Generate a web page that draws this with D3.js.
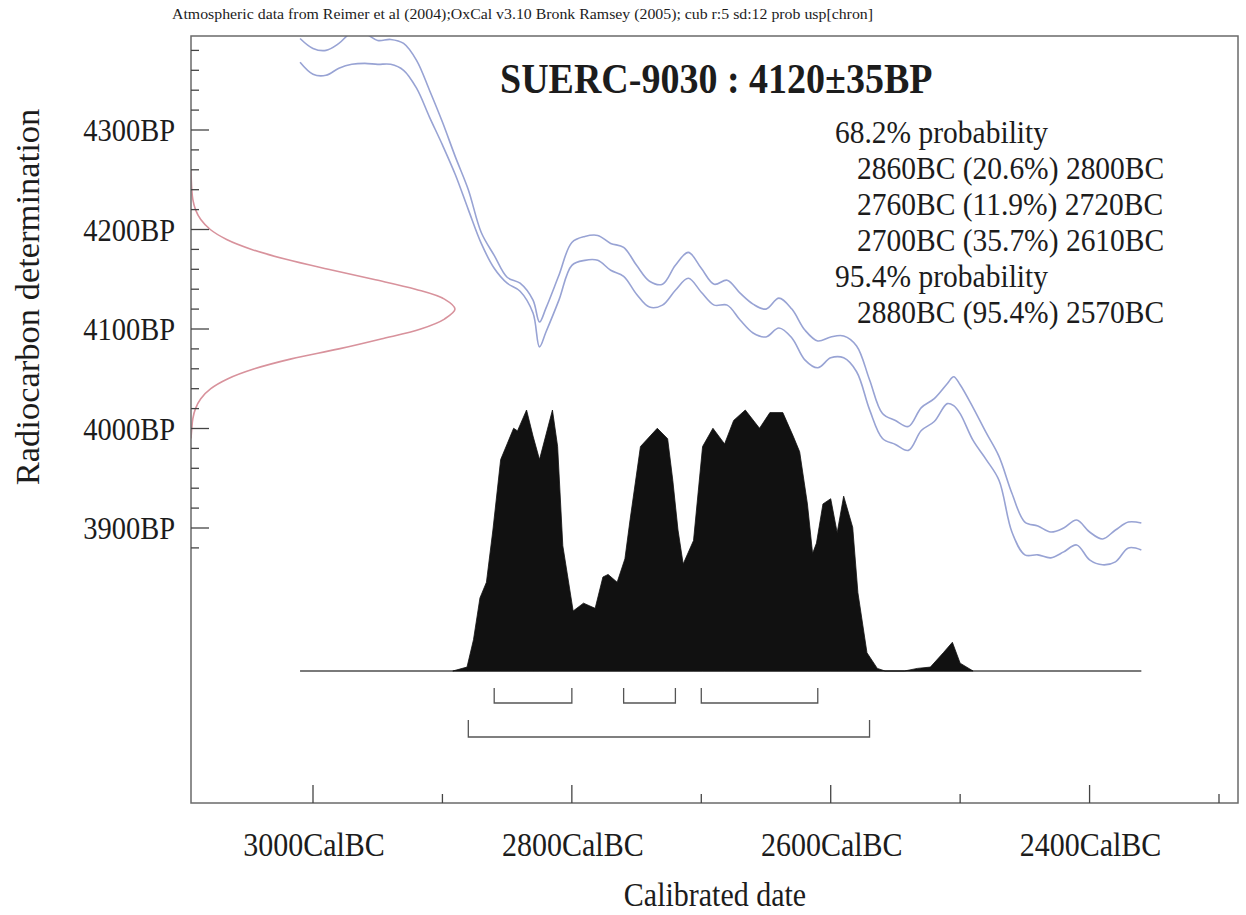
<!DOCTYPE html>
<html><head><meta charset="utf-8">
<script src="https://cdn.jsdelivr.net/npm/d3@7"></script>
<style>
body{margin:0;background:#fff}
svg{display:block}
text{font-family:"Liberation Serif","Times New Roman",serif;fill:#1c1c1c}
</style>
</head><body>
<svg id="c" width="1246" height="915"></svg>
<script>
// ---- data ----
const headerText = "Atmospheric data from Reimer et al (2004);OxCal v3.10 Bronk Ramsey (2005); cub r:5 sd:12 prob usp[chron]";
const titleText = "SUERC-9030 : 4120\u00b135BP";
const probLines = [
  {t:"68.2% probability", indent:false},
  {t:"2860BC (20.6%) 2800BC", indent:true},
  {t:"2760BC (11.9%) 2720BC", indent:true},
  {t:"2700BC (35.7%) 2610BC", indent:true},
  {t:"95.4% probability", indent:false},
  {t:"2880BC (95.4%) 2570BC", indent:true}
];
const xTickYears = [3000, 2800, 2600, 2400];
const xTickLabels = ["3000CalBC", "2800CalBC", "2600CalBC", "2400CalBC"];
const xMinorYears = [2900, 2700, 2500, 2300];
const yTickBP = [4300, 4200, 4100, 4000, 3900];
const yTickLabels = ["4300BP", "4200BP", "4100BP", "4000BP", "3900BP"];

// calibration curve (years BC), upper and lower 1-sigma bounds (BP)
const calYears = [3010,3000,2990,2980,2970,2960,2950,2940,2930,2920,2910,2900,2890,2880,2870,2860,2850,2840,2830,2825,2820,2810,2800,2790,2780,2770,2760,2750,2740,2730,2720,2710,2700,2690,2680,2670,2660,2650,2640,2630,2620,2610,2600,2590,2580,2570,2560,2550,2540,2530,2520,2510,2505,2500,2490,2480,2470,2460,2450,2440,2430,2420,2410,2400,2390,2380,2370,2360];
const calUpper = [4392,4382,4380,4387,4398,4397,4390,4391,4387,4370,4340,4308,4273,4240,4197,4174,4152,4146,4129,4107,4121,4154,4187,4193,4194,4186,4182,4164,4148,4145,4164,4177,4161,4145,4149,4136,4125,4120,4131,4120,4099,4088,4092,4093,4083,4049,4015,4008,4002,4021,4030,4045,4052,4044,4021,3996,3972,3935,3906,3902,3896,3900,3908,3896,3889,3898,3906,3905];
const calLower = [4368,4356,4355,4362,4366,4367,4366,4366,4360,4342,4313,4285,4255,4220,4186,4161,4146,4138,4116,4082,4097,4129,4164,4169,4169,4159,4153,4135,4122,4124,4139,4151,4137,4124,4124,4109,4096,4092,4101,4091,4069,4061,4071,4071,4057,4019,3990,3984,3978,3998,4007,4025,4023,4015,3988,3969,3948,3896,3873,3873,3870,3876,3883,3868,3863,3866,3880,3878];

// calibrated probability distribution (years BC, relative density)
const probYears = [2892,2881,2876,2871,2866,2861,2855,2850,2845,2842,2835,2830,2825,2815,2811,2807,2799,2791,2782,2776,2772,2765,2759,2755,2747,2734,2726,2722,2718,2714,2706,2699,2691,2682,2675,2666,2655,2647,2637,2629,2624,2618,2614,2611,2606,2600,2595,2590,2583,2579,2572,2564,2558,2543,2533,2523,2513,2506,2500,2490];
const probDensity = [0,0.015,0.12,0.28,0.34,0.54,0.81,0.87,0.93,0.92,1.0,0.90,0.81,1.0,0.86,0.48,0.23,0.26,0.24,0.36,0.37,0.34,0.43,0.58,0.86,0.93,0.89,0.73,0.54,0.41,0.50,0.86,0.93,0.87,0.96,1.0,0.93,0.99,0.99,0.90,0.84,0.64,0.45,0.49,0.64,0.66,0.53,0.67,0.55,0.30,0.07,0.01,0,0,0.01,0.015,0.07,0.11,0.03,0];

// radiocarbon measurement distribution (BP, relative density)
const c14BP = [4260,4250,4240,4230,4220,4210,4200,4190,4180,4170,4160,4150,4140,4130,4120,4110,4100,4090,4080,4070,4060,4050,4040,4030,4020,4010,4000,3990];
const c14Density = [0,0.001,0.003,0.007,0.017,0.037,0.073,0.135,0.23,0.36,0.52,0.69,0.85,0.96,1.0,0.96,0.87,0.72,0.56,0.38,0.24,0.14,0.075,0.037,0.017,0.007,0.003,0];

const range68 = [[2860,2800],[2760,2720],[2700,2610]];
const range95 = [[2880,2570]];

// ---- drawing ----
const svg = d3.select("#c");
const frame = {l:191, t:36, r:1238, b:803};

const x = d3.scaleLinear().domain([3000, 2300]).range([313, 1219]);
const y = d3.scaleLinear().domain([4300, 3900]).range([130, 528]);
const yp = d3.scaleLinear().domain([0, 1]).range([671, 410]);
const xr = d3.scaleLinear().domain([0, 1]).range([frame.l, 455]);

svg.append("rect").attr("width",1246).attr("height",915).attr("fill","#fff");

svg.append("clipPath").attr("id","plotclip").append("rect")
  .attr("x",frame.l).attr("y",frame.t).attr("width",frame.r-frame.l).attr("height",frame.b-frame.t);
const plot = svg.append("g").attr("clip-path","url(#plotclip)");

// baseline of distribution
plot.append("line")
  .attr("x1", x(d3.max(calYears))).attr("x2", x(d3.min(calYears)))
  .attr("y1", yp(0)).attr("y2", yp(0))
  .attr("stroke","#7a7a7a").attr("stroke-width",2);

// calibrated distribution
const probData = probYears.map((yr,i)=>({yr, v:probDensity[i]}));
plot.append("path").datum(probData)
  .attr("d", d3.area().x(d=>x(d.yr)).y0(yp(0)).y1(d=>yp(d.v)))
  .attr("fill","#111").attr("stroke","#111").attr("stroke-width",0.8);

// calibration curve
const calLine = d3.line().x(d=>x(d.yr)).y(d=>y(d.bp)).curve(d3.curveCatmullRom.alpha(0.5));
[calUpper, calLower].forEach(arr=>{
  plot.append("path").datum(calYears.map((yr,i)=>({yr, bp:arr[i]})))
    .attr("d", calLine).attr("fill","none")
    .attr("stroke","#98a3d4").attr("stroke-width",1.6).attr("stroke-linejoin","round");
});

// radiocarbon gaussian
plot.append("path").datum(c14BP.map((bp,i)=>({bp, v:c14Density[i]})))
  .attr("d", d3.line().x(d=>xr(d.v)).y(d=>y(d.bp)).curve(d3.curveCatmullRom.alpha(0.5)))
  .attr("fill","none").attr("stroke","#d8929c").attr("stroke-width",1.6);

// range brackets
function brackets(list, top, bottom){
  list.forEach(([a,b])=>{
    svg.append("path")
      .attr("d", `M${x(a)},${top}V${bottom}H${x(b)}V${top}`)
      .attr("fill","none").attr("stroke","#555").attr("stroke-width",1.3);
  });
}
brackets(range68, 688, 703);
brackets(range95, 720, 737);

// frame
svg.append("rect").attr("x",frame.l).attr("y",frame.t)
  .attr("width",frame.r-frame.l).attr("height",frame.b-frame.t)
  .attr("fill","none").attr("stroke","#6a6a6a").attr("stroke-width",1.5);

// y ticks
d3.range(3880, 4381, 20).forEach(bp=>{
  const major = bp % 100 === 0;
  svg.append("line").attr("x1",frame.l).attr("x2",frame.l+(major?18:8))
    .attr("y1",y(bp)).attr("y2",y(bp)).attr("stroke","#444").attr("stroke-width",1.3);
});
// x ticks
xTickYears.forEach(yr=>{
  svg.append("line").attr("x1",x(yr)).attr("x2",x(yr))
    .attr("y1",frame.b).attr("y2",frame.b-18).attr("stroke","#444").attr("stroke-width",1.3);
});
xMinorYears.forEach(yr=>{
  svg.append("line").attr("x1",x(yr)).attr("x2",x(yr))
    .attr("y1",frame.b).attr("y2",frame.b-9).attr("stroke","#444").attr("stroke-width",1.3);
});

// text helper (scan is slightly stretched vertically)
function txt(px, py, s, size, anchor, weight){
  return svg.append("text")
    .attr("transform",`translate(${px},${py}) scale(1,1.1)`)
    .attr("text-anchor",anchor||"start")
    .attr("font-size",size)
    .attr("font-weight",weight||"normal")
    .text(s);
}

txt(172, 19, headerText, 14).attr("textLength",701).attr("lengthAdjust","spacingAndGlyphs");
txt(500, 93, titleText, 38, "start", "bold");

probLines.forEach((l,i)=>{
  txt(l.indent ? 857 : 835, 143 + i*36, l.t, 29.5);
});

yTickBP.forEach((bp,i)=>{
  txt(175, y(bp)+11, yTickLabels[i], 28.5, "end");
});
xTickYears.forEach((yr,i)=>{
  txt(x(yr)+1, 856, xTickLabels[i], 30, "middle");
});

svg.append("text")
  .attr("transform","translate(39,297) rotate(-90)")
  .attr("text-anchor","middle").attr("font-size",34.5)
  .text("Radiocarbon determination");
txt(715, 906, "Calibrated date", 30, "middle");
</script>
</body></html>
